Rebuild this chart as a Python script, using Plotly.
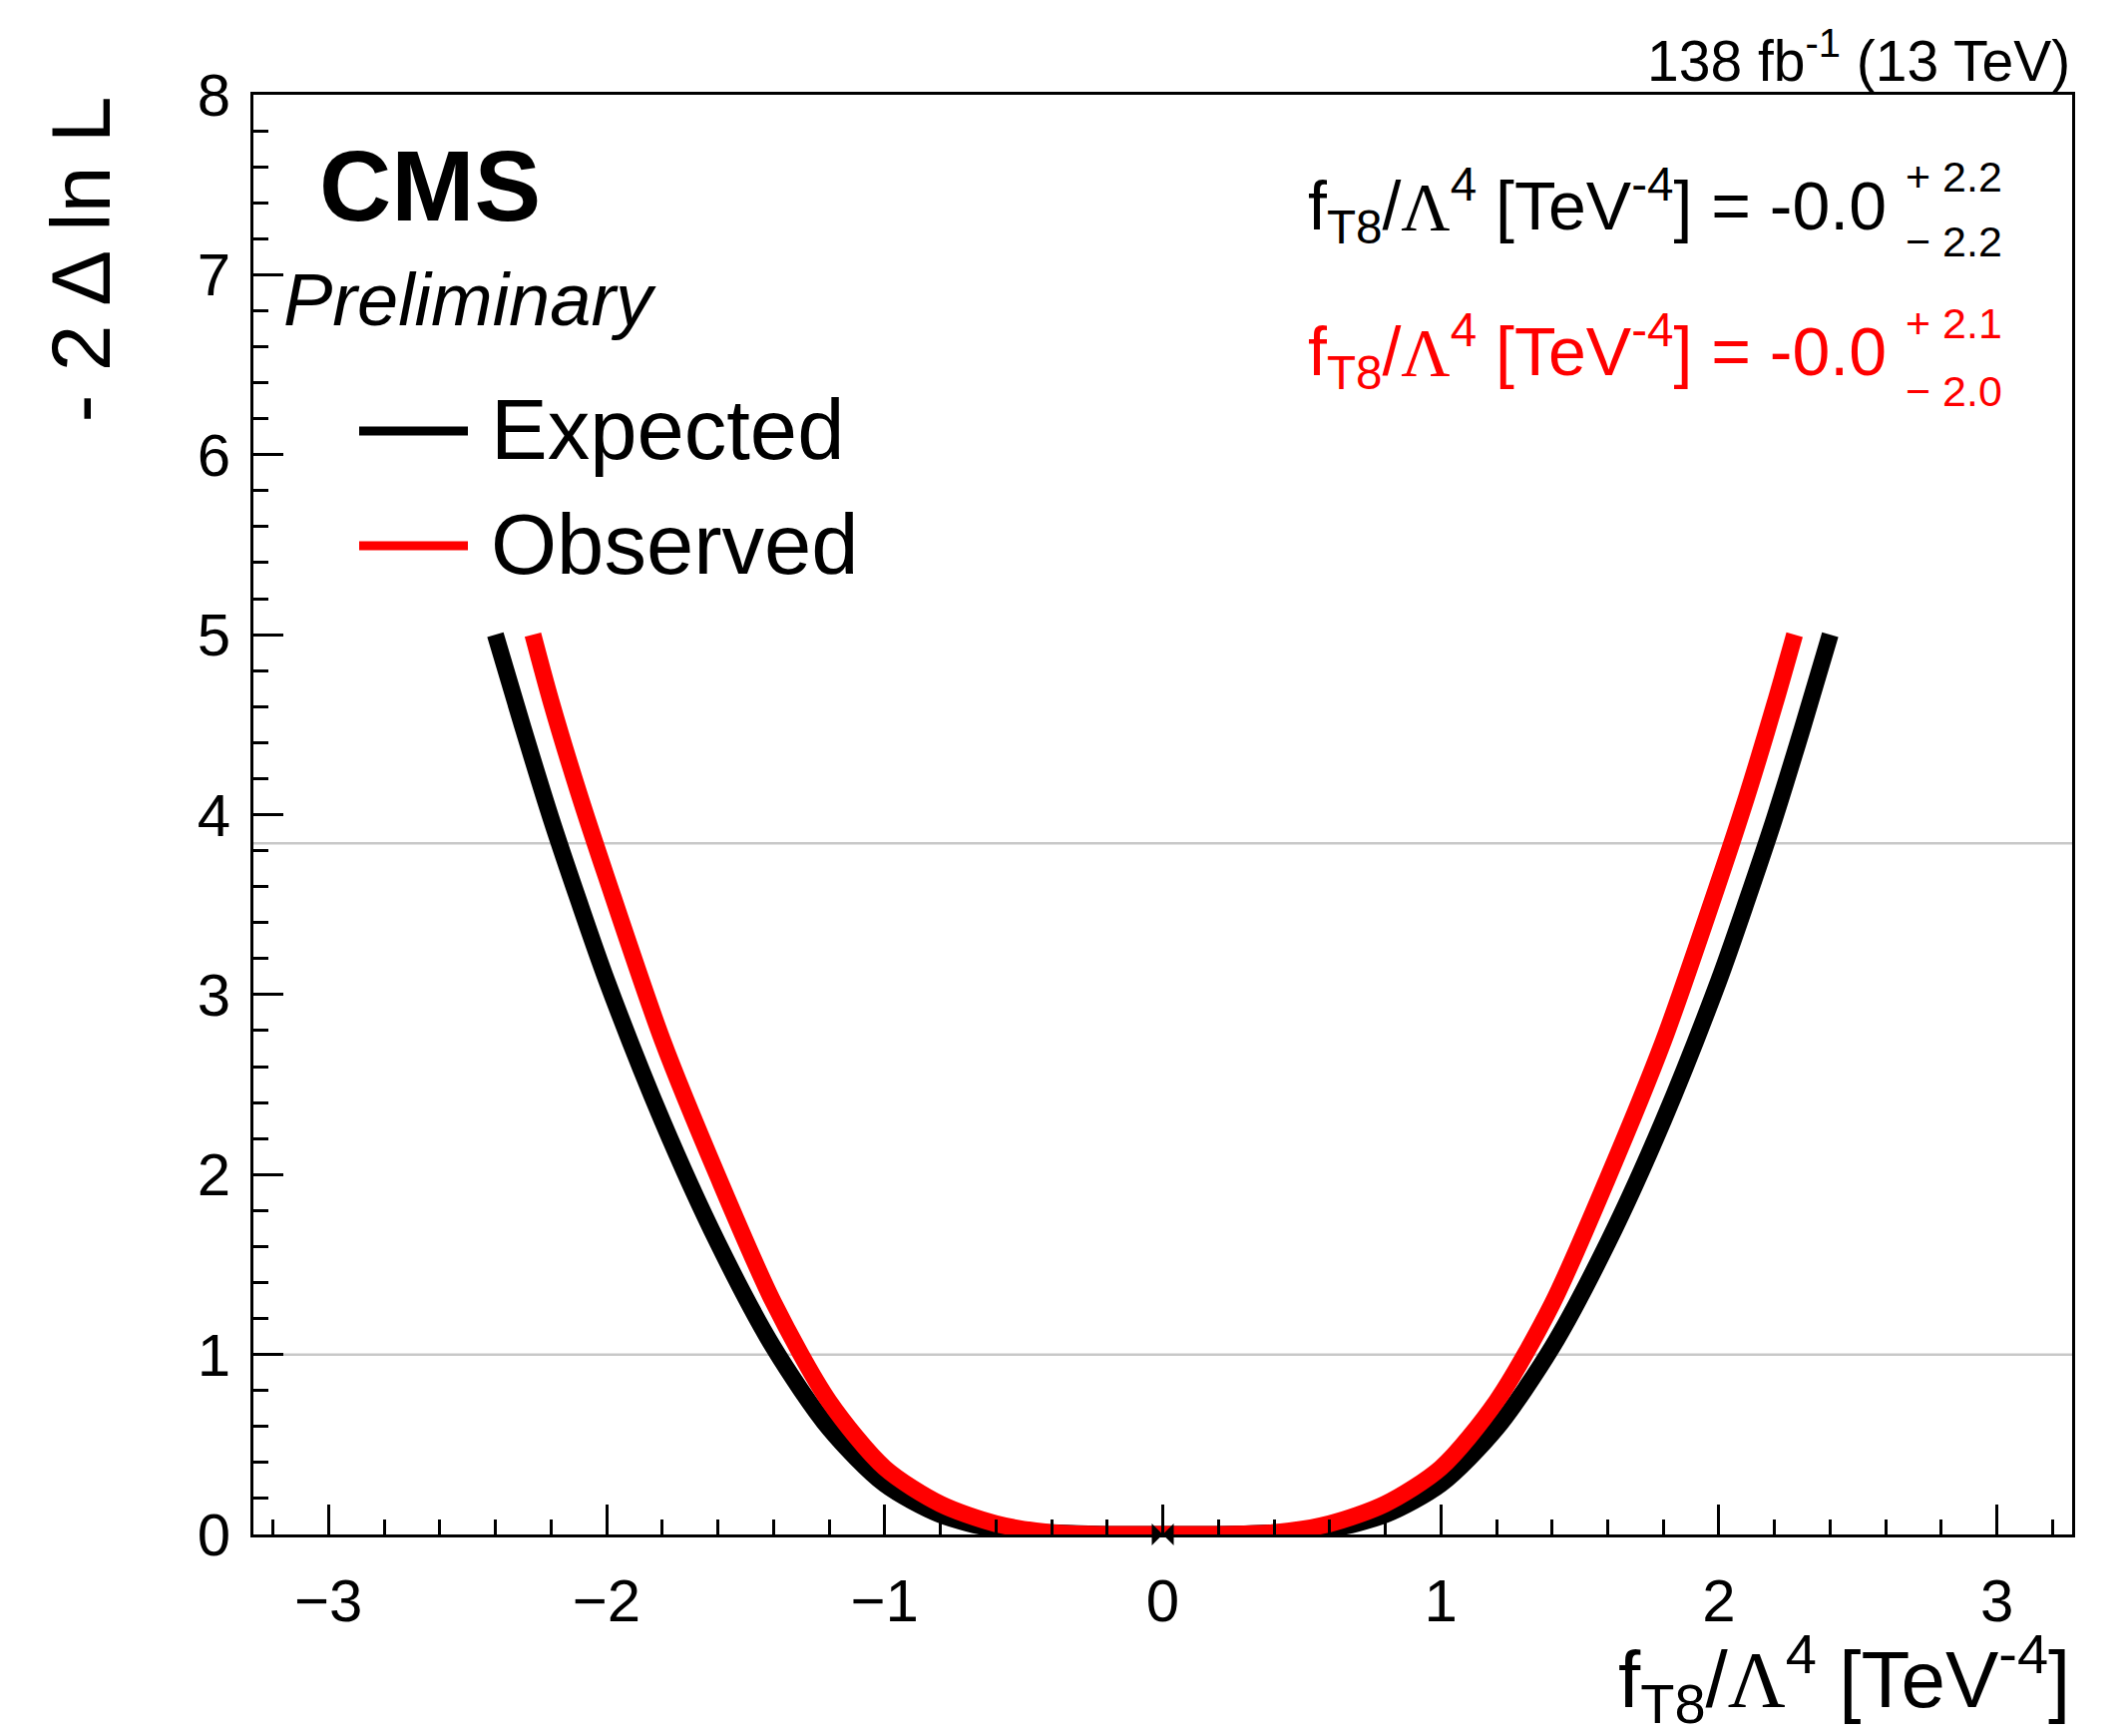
import plotly.graph_objects as go

# ---------------- data ----------------
expected_x = [-2.40, -2.30, -2.20, -2.10, -2.00, -1.80, -1.60, -1.40, -1.20, -1.00, -0.80, -0.60, -0.40, -0.20,
              0.00, 0.20, 0.40, 0.60, 0.80, 1.00, 1.20, 1.40, 1.60, 1.80, 2.00, 2.10, 2.20, 2.30, 2.40]
expected_y = [5.00, 4.48, 3.98, 3.52, 3.08, 2.30, 1.62, 1.04, 0.59, 0.28, 0.11, 0.03, 0.01, 0.00,
              0.00, 0.00, 0.01, 0.03, 0.11, 0.28, 0.59, 1.04, 1.62, 2.30, 3.08, 3.52, 3.98, 4.48, 5.00]

observed_x = [-2.265, -2.20, -2.10, -2.00, -1.80, -1.60, -1.40, -1.20, -1.00, -0.80, -0.60, -0.40, -0.20,
              0.00, 0.20, 0.40, 0.60, 0.80, 1.00, 1.20, 1.40, 1.60, 1.80, 2.00, 2.10, 2.20, 2.272]
observed_y = [5.00, 4.63, 4.12, 3.65, 2.75, 1.99, 1.29, 0.74, 0.37, 0.17, 0.06, 0.01, 0.00,
              0.00, 0.00, 0.01, 0.06, 0.17, 0.37, 0.74, 1.28, 1.98, 2.74, 3.63, 4.10, 4.61, 5.00]

best_fit_x = [0.0]
best_fit_y = [0.0]

threshold_levels = [1.0, 3.84]

x_tick_vals = [-3, -2, -1, 0, 1, 2, 3]
y_tick_vals = [0, 1, 2, 3, 4, 5, 6, 7, 8]

series_names = ["Expected", "Observed"]
series_colors = ["#000000", "#ff0000"]
results_text = ["-0.0", "-0.0"]
results_up = ["+ 2.2", "+ 2.1"]
results_down = ["\u2212 2.2", "\u2212 2.0"]

# ---------------- layout helpers ----------------
W, H = 2132, 1740
L, R, T, B = 254, 2077, 95, 1538
FONT = "Liberation Sans, Arial, Helvetica, sans-serif"


def px_x(px):
    return (px - L) / (R - L)


def px_y(py):
    return (B - py) / (B - T)


fig = go.Figure()

fig.add_trace(go.Scatter(x=expected_x, y=expected_y, mode="lines", name=series_names[0],
                         line=dict(color=series_colors[0], width=17, shape="spline", smoothing=0.8),
                         cliponaxis=False, showlegend=False))
fig.add_trace(go.Scatter(x=observed_x, y=observed_y, mode="lines", name=series_names[1],
                         line=dict(color=series_colors[1], width=17, shape="spline", smoothing=0.8),
                         cliponaxis=False, showlegend=False))
fig.add_trace(go.Scatter(x=best_fit_x, y=best_fit_y, mode="markers",
                         marker=dict(symbol="bowtie", size=22, color="#000000"),
                         cliponaxis=False, showlegend=False))

shapes = []
for lvl in threshold_levels:
    shapes.append(dict(type="line", xref="paper", yref="y", x0=0, x1=1, y0=lvl, y1=lvl,
                       line=dict(color="#c8c8c8", width=2.5), layer="below"))

# legend samples
legend_y_px = [432, 547]
for name, col, ypx in zip(series_names, series_colors, legend_y_px):
    shapes.append(dict(type="line", xref="paper", yref="paper", x0=px_x(360), x1=px_x(469),
                       y0=px_y(ypx), y1=px_y(ypx), line=dict(color=col, width=9)))

annotations = []


def ann(text, x, y, size, xanchor="left", yanchor="middle", color="#000000", **kw):
    annotations.append(dict(text=text, x=x, y=y, xref="paper", yref="paper", showarrow=False,
                            xanchor=xanchor, yanchor=yanchor,
                            font=dict(family=FONT, size=size, color=color), **kw))


ann("138 fb<sup>-1</sup> (13 TeV)", 1.0, px_y(57), 57, xanchor="right")
ann("<b>CMS</b>", px_x(318), px_y(186), 100)
ann("<i>Preliminary</i>", px_x(282), px_y(300), 74)
for name, ypx in zip(series_names, [430, 545]):
    ann(name, px_x(490), px_y(ypx), 85)

lam = '<span style="font-family:Liberation Serif, Times New Roman, serif">\u039b</span>'
main_ypx = [206, 352]
up_ypx = [177, 324]
down_ypx = [242, 392]
for i in range(2):
    col = series_colors[i]
    ann(f"f<sub>T8</sub>/{lam}<sup>4</sup> [TeV<sup>-4</sup>] = {results_text[i]}",
        px_x(1893), px_y(main_ypx[i]), 68, xanchor="right", color=col)
    ann(results_up[i], px_x(1908), px_y(up_ypx[i]), 43, color=col)
    ann(results_down[i], px_x(1908), px_y(down_ypx[i]), 43, color=col)

ann(f"f<sub>T8</sub>/{lam}<sup>4</sup> [TeV<sup>-4</sup>]", 1.0, px_y(1682), 80, xanchor="right")
ann("- 2 \u0394 ln L", px_x(80), 1.0, 84, xanchor="center", yanchor="top", textangle=-90)

fig.update_layout(
    width=W, height=H,
    margin=dict(l=L, r=W - R, t=T, b=H - B, pad=0),
    paper_bgcolor="white", plot_bgcolor="white",
    font=dict(family=FONT, size=60, color="#000000"),
    shapes=shapes, annotations=annotations,
    showlegend=False,
)

fig.update_xaxes(range=[-3.27, 3.27], tickmode="array", tickvals=x_tick_vals,
                 ticks="inside", ticklen=30, tickwidth=2.5, tickcolor="#000000",
                 minor=dict(ticks="inside", ticklen=15, tickwidth=2.5, dtick=0.2, tick0=0, tickcolor="#000000"),
                 showline=True, linecolor="#000000", linewidth=3, mirror=True,
                 showgrid=False, zeroline=False, tickfont=dict(size=60), ticklabelstandoff=12)
fig.update_yaxes(range=[0, 8], tickmode="array", tickvals=y_tick_vals,
                 ticks="inside", ticklen=30, tickwidth=2.5, tickcolor="#000000",
                 minor=dict(ticks="inside", ticklen=15, tickwidth=2.5, dtick=0.2, tick0=0, tickcolor="#000000"),
                 showline=True, linecolor="#000000", linewidth=3, mirror=True,
                 showgrid=False, zeroline=False, tickfont=dict(size=60), ticklabelstandoff=8)

fig.write_html("out.html")
